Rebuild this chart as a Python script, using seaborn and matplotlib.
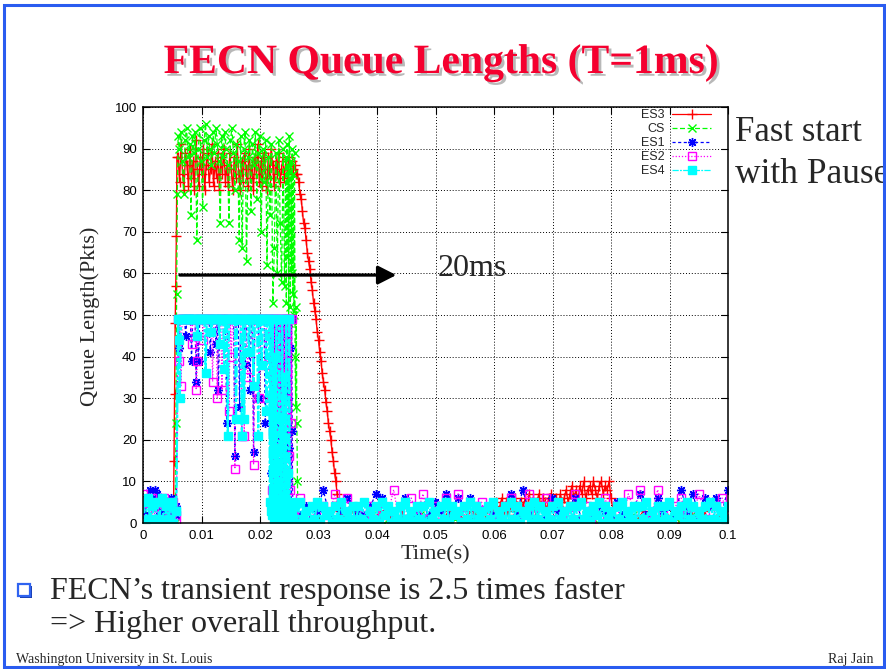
import numpy as np
import matplotlib
matplotlib.use('Agg')
import matplotlib.pyplot as plt
import matplotlib.patheffects as pe
from matplotlib.patches import Rectangle
import seaborn as sns

# ---------------- queue length samples (Pkts) per phase ----------------
# ES3 (red)
es3_idle = [0, 0, 0, 0, 0, 0, 0, 0, 0, 0, 0]
es3_rise = [0, 15, 31, 48, 57, 69, 88]
es3_top = [88, 82, 91, 84, 80, 89, 86, 81, 90, 83, 87, 80, 92, 85, 81, 88, 84, 90, 80, 86,
           89, 82, 85, 91, 81, 87, 83, 89, 80, 88, 84, 90, 82, 86, 81, 89, 85, 80, 88, 83,
           91, 84, 80, 87, 82, 89, 85, 81, 90, 83, 86, 80, 88, 84, 91, 82, 87, 81, 89, 85,
           80, 88, 83, 90, 86, 81, 87, 84, 89, 82, 85, 88, 83, 87, 84, 88, 86, 87, 85, 86, 84]
es3_fall = [84, 82, 79, 78, 75, 72, 71, 68, 65, 63, 61, 58, 56, 53, 51, 49, 46, 44, 41, 39,
            36, 34, 32, 29, 27, 24, 22, 20, 17, 15, 12, 10, 7, 5, 3]
es3_low = [2, 1, 3, 0, 2, 1, 2, 3, 1, 0, 2, 1, 3, 2, 1, 2, 0, 1, 3, 2, 1, 2, 3, 1, 2, 3]
es3_bump = [3, 5, 2, 4, 6, 3, 5, 2, 4, 5, 3, 6, 4, 2, 5, 4, 6, 3,
            7, 4, 6, 3, 5, 7, 4, 6, 5, 3, 6, 7, 4, 5, 6, 4, 7, 5,
            6, 8, 5, 7, 9, 6, 8, 5, 9, 7, 10, 6, 8, 9, 7, 10, 8, 6, 9, 10, 7, 9, 8, 10, 6]
es3_tail = [2, 1, 0, 2, 1, 3, 1, 0, 2, 1, 2, 0, 1, 2, 1, 3, 0, 1, 2, 1]

# CS (green)
cs_idle = [1, 0, 2, 0, 1, 0, 1, 2, 0, 1, 0]
cs_rise = [0, 24, 55, 79, 93]
cs_top = [90, 94, 87, 79, 92, 95, 88, 91, 74, 93,
          89, 94, 68, 90, 95, 87, 76, 92, 96, 88,
          93, 90, 86, 94, 89, 95, 91, 87, 72, 93,
          88, 94, 90, 86, 72, 92, 95, 89, 80, 91,
          87, 68, 93, 66, 90, 94, 63, 88, 92, 75,
          91, 86, 94, 78, 89, 93, 70, 90, 82, 92,
          62, 88, 74, 91, 53, 66, 89, 60, 92, 72,
          58, 90, 57]
cs_drop = [88, 53, 91, 64, 86, 48, 93, 70, 52, 87, 60, 90, 55, 84, 50, 89, 40, 28, 52, 24,
           10, 2, 0]
cs_low = [1, 0, 2, 1, 0, 1, 2, 0, 1, 0, 2, 1, 0, 1, 0, 2, 1, 0, 1, 2, 0, 1, 0, 1, 2, 0, 1,
          0, 2, 1, 0, 1, 0, 2, 1, 0, 1]

# ES1 (blue)
es1_early = [4, 2, 6, 8, 5, 8, 7, 3, 5, 2, 4, 1, 6, 3, 2]
es1_rise = [4, 49]
es1_high = [42, 49, 49, 49, 49, 49, 45, 49, 49, 49,
            49, 39, 49, 49, 49, 34, 49, 39, 49, 49,
            49, 49, 49, 49, 49, 49, 49, 41, 49, 49,
            49, 49, 43, 49, 32, 49, 49, 49, 49, 49,
            49, 24, 49, 49, 49, 49, 49, 49, 16, 49,
            49, 49, 28, 49, 49, 49, 49, 38, 49, 49,
            49, 32, 49, 49, 17, 49, 49, 49, 49, 30,
            49, 49, 49, 49, 24, 49, 49, 49]
es1_dense = [49, 12, 49, 35, 49, 5, 49, 28, 44, 49, 8, 49, 40, 20, 49, 3, 49, 33, 49, 15,
             49, 46, 6, 49, 25, 49, 38, 10, 49, 2, 49, 30, 49, 18, 49, 42, 4, 49, 22, 3]
es1_low = [3, 2, 4, 1, 3, 8, 2, 4, 3, 6, 1, 3, 2, 4, 7, 6, 3, 2, 4, 6,
           1, 3, 4, 2, 5, 3, 7, 2, 6, 4, 6, 1, 3, 4, 2, 3, 4, 7, 2, 8,
           3, 1, 4, 2, 6, 3, 2, 4, 6, 1, 3, 2, 4, 3, 1, 5, 2, 3, 4, 7,
           2, 1, 6, 3, 4, 2, 8, 3, 7, 2, 6, 4, 6, 3, 8]

# ES2 (magenta)
es2_early = [7, 3, 5, 1, 6, 2, 0, 5, 3, 6, 1, 4, 2, 5, 0]
es2_rise = [2, 49]
es2_high = [39, 49, 33, 49, 49, 49, 49, 49, 49, 49,
            49, 43, 49, 49, 49, 32, 39, 49, 49, 49,
            49, 44, 49, 49, 49, 49, 49, 49, 49, 34,
            49, 49, 49, 30, 49, 49, 49, 32, 49, 49,
            49, 49, 49, 27, 49, 40, 49, 49, 13, 49,
            49, 49, 49, 49, 21, 49, 21, 49, 49, 35,
            49, 49, 49, 49, 14, 49, 49, 49, 49, 30,
            49, 49, 49, 49, 38, 49, 49, 49]
es2_dense = [49, 30, 49, 8, 45, 49, 22, 49, 2, 49, 38, 14, 49, 26, 49, 6, 41, 49, 18, 49,
             33, 4, 49, 47, 11, 49, 28, 49, 1, 49, 36, 49, 16, 49, 8, 49, 24, 49, 0, 2]
es2_low = [2, 6, 1, 3, 0, 4, 2, 7, 1, 6, 3, 0, 2, 4, 1, 3, 2, 8, 0, 3,
           6, 2, 7, 1, 4, 0, 6, 3, 7, 2, 1, 4, 5, 0, 3, 2, 4, 6, 1, 3,
           7, 2, 0, 6, 4, 1, 3, 2, 7, 0, 4, 3, 1, 6, 2, 4, 0, 7, 3, 8,
           1, 2, 8, 3, 0, 4, 6, 2, 1, 7, 3, 0, 4, 6, 2]

# ES4 (cyan)
es4_early = [5, 0, 6, 1, 4, 0, 5, 1, 6, 0, 4, 1, 5, 0, 3]
es4_rise = [3, 49]
es4_high = [44, 30, 49, 49, 49, 49, 49, 49, 49, 49,
            49, 49, 49, 49, 49, 49, 45, 49, 49, 49,
            49, 49, 49, 36, 49, 49, 49, 49, 46, 49,
            49, 49, 49, 49, 49, 43, 49, 49, 49, 37,
            49, 49, 21, 49, 49, 49, 49, 49, 49, 25,
            49, 49, 49, 49, 21, 49, 25, 49, 49, 49,
            41, 49, 49, 49, 33, 49, 49, 49, 21, 49,
            49, 38, 49, 49, 49, 27, 49, 49]
es4_dense = [5, 49, 3, 30, 2, 49, 6, 1, 40, 4, 2, 49, 3, 18, 5, 0, 49, 2, 25, 4,
             1, 49, 3, 6, 2, 35, 4, 0, 49, 5, 2, 12, 3, 49, 1, 4, 2, 5, 3, 1]
es4_low = [4, 0, 5, 1, 3, 0, 4, 1, 5, 0, 4, 2, 3, 0, 4, 1, 5, 0, 3, 1,
           4, 0, 4, 1, 5, 0, 3, 1, 4, 0, 5, 2, 4, 0, 3, 1, 4, 0, 5, 1,
           3, 0, 4, 1, 4, 0, 5, 1, 3, 0, 4, 1, 5, 0, 4, 2, 3, 0, 4, 1,
           5, 0, 4, 1, 3, 0, 4, 1, 5, 0, 3, 1, 4, 0, 5, 1, 4, 0, 3, 2,
           4, 0, 5, 1, 4, 0, 3, 1, 4, 0, 5, 1, 3, 0, 4, 1, 4, 0, 5, 1,
           3, 0, 4, 2, 5, 0, 4, 1, 3, 0, 4, 1, 5, 0, 3, 1, 4, 0, 4, 1,
           5, 0, 3, 1, 4, 0, 4, 1, 5, 0, 3, 2, 4, 0, 5, 1, 4, 0, 3, 1,
           4, 0, 5, 1, 4, 0, 3, 1, 4]

# time span (s) covered by each phase
es3_phases = [(0.0, 0.0050, es3_idle), (0.0052, 0.0058, es3_rise), (0.0060, 0.0262, es3_top),
              (0.0264, 0.0336, es3_fall), (0.0340, 0.0595, es3_low),
              (0.0600, 0.0800, es3_bump), (0.0805, 0.1000, es3_tail)]
cs_phases = [(0.0, 0.0052, cs_idle), (0.0055, 0.0060, cs_rise), (0.0062, 0.0242, cs_top),
             (0.0244, 0.0266, cs_drop), (0.0270, 0.1000, cs_low)]
es1_phases = [(0.0, 0.0056, es1_early), (0.0057, 0.0060, es1_rise), (0.0061, 0.0215, es1_high),
              (0.0217, 0.0256, es1_dense), (0.0258, 0.1000, es1_low)]
es2_phases = [(0.0, 0.0056, es2_early), (0.0057, 0.0060, es2_rise), (0.0061, 0.0215, es2_high),
              (0.0217, 0.0256, es2_dense), (0.0258, 0.1000, es2_low)]
es4_phases = [(0.0, 0.0056, es4_early), (0.0057, 0.0060, es4_rise), (0.0061, 0.0215, es4_high),
              (0.0217, 0.0256, es4_dense), (0.0258, 0.1000, es4_low)]

series_names = ['ES3', 'CS', 'ES1', 'ES2', 'ES4']
xtick_vals = [0, 0.01, 0.02, 0.03, 0.04, 0.05, 0.06, 0.07, 0.08, 0.09, 0.1]
xtick_labels = ['0', '0.01', '0.02', '0.03', '0.04', '0.05', '0.06', '0.07', '0.08', '0.09', '0.1']
ytick_vals = [0, 10, 20, 30, 40, 50, 60, 70, 80, 90, 100]


def build(phases):
    ts, qs = [], []
    for t0, t1, vals in phases:
        ts.append(np.linspace(t0, t1, len(vals)))
        qs.append(np.asarray(vals, dtype=float))
    return np.concatenate(ts), np.concatenate(qs)


sns.set_theme(style='ticks')
plt.rcParams['font.family'] = ['Liberation Sans', 'DejaVu Sans']
SERIF = ['Liberation Serif', 'DejaVu Serif']

fig = plt.figure(figsize=(8.86, 6.69), dpi=100)
fig.patch.set_facecolor('white')
ax = fig.add_axes([143 / 886, 1 - 523 / 669, 585 / 886, 416 / 669])

styles = {
    'ES3': dict(color='#ff0000', linestyle='-', marker='+', markersize=6.5, linewidth=1.0),
    'CS': dict(color='#00ff00', linestyle=(0, (4, 2)), marker='x', markersize=5.5, linewidth=0.9),
    'ES1': dict(color='#0000ff', linestyle=(0, (2.5, 2)), marker=(8, 2, 0), markersize=6.5,
                linewidth=0.9),
    'ES2': dict(color='#ff00ff', linestyle=(0, (1, 1.5)), marker='s', markersize=5.5,
                markerfacecolor='none', linewidth=0.9),
    'ES4': dict(color='#00ffff', linestyle=(0, (5, 1, 1.5, 1)), marker='s', markersize=5.2,
                linewidth=1.6),
}
all_phases = [es3_phases, cs_phases, es1_phases, es2_phases, es4_phases]

for name, phases in zip(series_names, all_phases):
    t, q = build(phases)
    st = styles[name]
    sns.lineplot(x=t, y=q, ax=ax, estimator=None, sort=False, errorbar=None,
                 label=name, markeredgewidth=1.0, markeredgecolor=st['color'], **st)

# 20 ms arrow
ax.annotate('', xy=(0.0433, 59.6), xytext=(0.0063, 59.6),
            arrowprops=dict(arrowstyle='-|>,head_length=0.55,head_width=0.28',
                            color='black', lw=2.3, mutation_scale=20,
                            shrinkA=0, shrinkB=0), zorder=6)
ax.text(0.0503, 59.4, '20ms', fontsize=23, family=SERIF, va='baseline', ha='left', zorder=6)

ax.set_xlim(0, 0.1)
ax.set_ylim(0, 100)
ax.set_xticks(xtick_vals)
ax.set_xticklabels(xtick_labels)
ax.set_yticks(ytick_vals)
ax.grid(True, color='black', linestyle=(0, (1, 2)), linewidth=0.7)
ax.tick_params(direction='in', length=5, width=0.8, top=True, right=True,
               labelsize=9.5, colors='black')
ax.tick_params(axis='x', pad=5)
ax.tick_params(axis='y', pad=4.5)
for sp in ax.spines.values():
    sp.set_linewidth(1.1)
    sp.set_color('black')

ax.set_xlabel('Time(s)', fontsize=16, family=SERIF)
ax.set_ylabel('Queue Length(Pkts)', fontsize=16, family=SERIF)
ax.xaxis.set_label_coords(0.5, -0.054)
ax.yaxis.set_label_coords(-0.074, 0.4976)

leg = ax.legend(loc='upper right', bbox_to_anchor=(0.975, 1.0), frameon=False,
                markerfirst=False, numpoints=1, fontsize=9, handlelength=3.1,
                handletextpad=0.6, labelspacing=0.15, borderaxespad=0, borderpad=0.2)
for line in leg.get_lines():
    line.set_linewidth(0.9)

# slide decoration
fig.text(0.4977, 1 - 73 / 669, 'FECN Queue Lengths (T=1ms)', fontsize=30, weight='bold',
         family=SERIF, color='#f5002f', ha='center', va='baseline',
         path_effects=[pe.withSimplePatchShadow(offset=(2, -2), shadow_rgbFace='#7f7f7f', alpha=0.55)])
fig.text(735 / 886, 1 - 141 / 669, 'Fast start', fontsize=25, family=SERIF, va='baseline')
fig.text(735 / 886, 1 - 183 / 669, 'with Pause', fontsize=25.5, family=SERIF, va='baseline')

fig.patches.append(Rectangle((20 / 886, 1 - 598 / 669), 12 / 886, 12 / 669, transform=fig.transFigure,
                             facecolor='#1a3fb0', edgecolor='none', zorder=5))
fig.patches.append(Rectangle((18 / 886, 1 - 596 / 669), 12 / 886, 12 / 669, transform=fig.transFigure,
                             facecolor='white', edgecolor='#2f63f0', linewidth=1.6, zorder=6))
fig.text(50 / 886, 1 - 599 / 669, 'FECN\u2019s transient response is 2.5 times faster',
         fontsize=23, family=SERIF, va='baseline')
fig.text(50 / 886, 1 - 632 / 669, '=> Higher overall throughput.',
         fontsize=23, family=SERIF, va='baseline')
fig.text(16 / 886, 1 - 663 / 669, 'Washington University in St. Louis', fontsize=10,
         family=SERIF, va='baseline')
fig.text(873 / 886, 1 - 663 / 669, 'Raj Jain', fontsize=10, family=SERIF, va='baseline', ha='right')

fig.patches.append(Rectangle((4 / 886, 2.5 / 669), 880 / 886, 662 / 669, transform=fig.transFigure,
                             fill=False, edgecolor='#2a5cf0', linewidth=2.2, zorder=10))

fig.savefig('out.png', dpi=100)
